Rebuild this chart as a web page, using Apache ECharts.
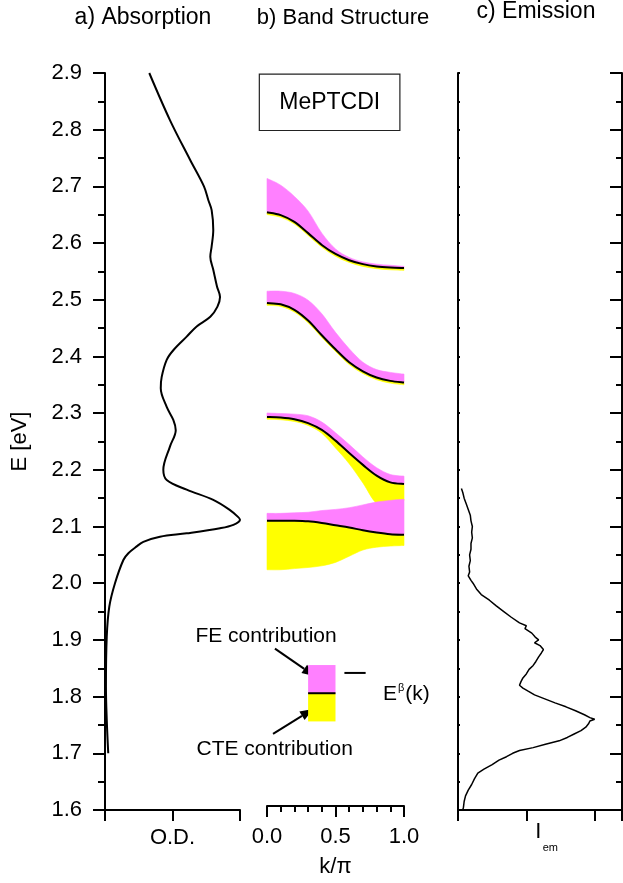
<!DOCTYPE html>
<html><head><meta charset="utf-8">
<script src="https://cdn.jsdelivr.net/npm/echarts@6/dist/echarts.min.js"></script>
<style>html,body{margin:0;padding:0;background:#fff}#c{width:623px;height:883px}</style>
</head><body><div id="c"></div>
<script>
// ---------- data ----------
const energyMin = 1.6, energyMax = 2.9;
// a) Absorption: optical density vs energy
const absE  = [2.900,2.817,2.747,2.700,2.676,2.658,2.623,2.594,2.576,2.553,2.523,2.505,2.488,2.470,2.453,2.435,2.411,2.394,2.364,2.344,2.311,2.288,2.270,2.241,2.200,2.182,2.165,2.147,2.129,2.117,2.112,2.103,2.097,2.088,2.082,2.073,2.065,2.053,2.041,2.000,1.959,1.906,1.818,1.759,1.700];
const absOD = [0.328,0.481,0.630,0.733,0.765,0.790,0.802,0.790,0.780,0.802,0.830,0.852,0.833,0.780,0.679,0.605,0.506,0.457,0.420,0.413,0.457,0.506,0.524,0.481,0.432,0.457,0.605,0.802,0.926,0.985,1.000,0.951,0.852,0.605,0.407,0.284,0.235,0.173,0.136,0.074,0.032,0.013,0.007,0.013,0.024];
// c) Emission intensity vs energy
const emE = [2.167,2.160,2.150,2.140,2.130,2.120,2.110,2.100,2.090,2.080,2.070,2.060,2.050,2.040,2.030,2.020,2.013,2.005,2.000,1.990,1.980,1.970,1.960,1.950,1.940,1.930,1.925,1.920,1.912,1.905,1.900,1.895,1.890,1.883,1.877,1.870,1.862,1.855,1.848,1.840,1.833,1.826,1.820,1.815,1.810,1.803,1.796,1.789,1.782,1.775,1.768,1.763,1.760,1.757,1.752,1.746,1.740,1.734,1.728,1.722,1.716,1.710,1.705,1.700,1.694,1.688,1.680,1.672,1.665,1.655,1.645,1.635,1.625,1.615,1.605,1.600];
const emI = [0.05,0.07,0.09,0.12,0.15,0.18,0.19,0.21,0.20,0.21,0.19,0.19,0.17,0.18,0.16,0.17,0.15,0.19,0.22,0.27,0.34,0.46,0.56,0.67,0.78,0.90,1.00,0.98,1.08,1.13,1.18,1.12,1.20,1.25,1.22,1.18,1.14,1.10,1.04,1.00,0.95,0.92,0.90,0.95,1.02,1.12,1.27,1.42,1.58,1.72,1.85,1.93,2.00,1.93,1.91,1.87,1.80,1.70,1.60,1.48,1.28,1.10,0.90,0.80,0.71,0.60,0.50,0.38,0.29,0.24,0.20,0.15,0.11,0.09,0.08,0.07];
// b) Band structure E^beta(k) and contributions
const kGrid = [0,0.1,0.2,0.3,0.4,0.5,0.6,0.7,0.8,0.9,1.0];
const band1Top    = [2.713,2.701,2.681,2.655,2.616,2.588,2.573,2.565,2.561,2.559,2.557];
const band1Line   = [2.653,2.648,2.636,2.616,2.595,2.579,2.568,2.561,2.557,2.555,2.554];
const band1Bottom = [2.649,2.644,2.632,2.612,2.591,2.575,2.564,2.557,2.553,2.551,2.550];
const band2Top    = [2.513,2.513,2.509,2.497,2.473,2.440,2.411,2.387,2.374,2.369,2.366];
const band2Line   = [2.492,2.490,2.480,2.461,2.435,2.410,2.387,2.371,2.360,2.354,2.351];
const band2Bottom = [2.488,2.486,2.476,2.457,2.431,2.406,2.383,2.367,2.356,2.350,2.347];
const band3Top    = [2.297,2.296,2.295,2.292,2.281,2.262,2.241,2.219,2.200,2.188,2.185];
const band3Line   = [2.290,2.289,2.286,2.279,2.267,2.248,2.226,2.205,2.186,2.174,2.171];
const band3Bottom = [2.286,2.285,2.282,2.275,2.261,2.235,2.207,2.173,2.137,2.140,2.142];
const band4Top    = [2.119,2.119,2.120,2.121,2.124,2.126,2.129,2.134,2.139,2.142,2.144];
const band4Line   = [2.106,2.106,2.106,2.105,2.102,2.098,2.094,2.089,2.085,2.082,2.081];
const band4Bottom = [2.019,2.019,2.021,2.023,2.026,2.032,2.043,2.054,2.059,2.061,2.062];
// inset legend (k range, E levels)
const legendK = [0.3, 0.5];
const legendE = [1.75, 1.80, 1.85];
const legendDashK = [0.565, 0.72];
const legendDashE = 1.836;

// ---------- styles ----------
const PINK = '#FF80FF', YELLOW = '#FFFF00', INK = '#000';
const FONT = "'Liberation Sans', Arial, Helvetica, sans-serif";

const bandRegions = [
  {upper: band1Top, lower: band1Line, color: PINK},
  {upper: band1Line, lower: band1Bottom, color: YELLOW},
  {upper: band2Top, lower: band2Line, color: PINK},
  {upper: band2Line, lower: band2Bottom, color: YELLOW},
  {upper: band3Top, lower: band3Line, color: PINK},
  {upper: band3Line, lower: band3Bottom, color: YELLOW},
  {upper: band4Top, lower: band4Line, color: PINK},
  {upper: band4Line, lower: band4Bottom, color: YELLOW}
];
const bandLines = [band1Line, band2Line, band3Line, band4Line];
const legendRects = [
  {k: legendK, e: [legendE[1], legendE[2]], color: PINK},
  {k: legendK, e: [legendE[0], legendE[1]], color: YELLOW}
];
const zip = (xs, ys) => xs.map((x, i) => [x, ys[i]]);

// Catmull-Rom smoothed path through pixel points (continuing from current point)
function crSegments(p) {
  let d = '';
  for (let i = 0; i < p.length - 1; i++) {
    const p0 = p[Math.max(i - 1, 0)], p1 = p[i], p2 = p[i + 1], p3 = p[Math.min(i + 2, p.length - 1)];
    const c1 = [p1[0] + (p2[0] - p0[0]) / 6, p1[1] + (p2[1] - p0[1]) / 6];
    const c2 = [p2[0] - (p3[0] - p1[0]) / 6, p2[1] - (p3[1] - p1[1]) / 6];
    d += ' C' + c1[0] + ',' + c1[1] + ' ' + c2[0] + ',' + c2[1] + ' ' + p2[0] + ',' + p2[1];
  }
  return d;
}

const chart = echarts.init(document.getElementById('c'), null, {renderer: 'canvas'});

const axisLineStyle = {color: INK, width: 2};
function energyAxis(extra) {
  return Object.assign({
    type: 'value', min: energyMin, max: energyMax, interval: 0.1,
    splitLine: {show: false},
    axisLine: {show: true, lineStyle: axisLineStyle},
    axisTick: {show: true, length: 12, lineStyle: {color: INK, width: 2}},
    minorTick: {show: true, splitNumber: 2, length: 7, lineStyle: {color: INK, width: 2}},
    axisLabel: {show: false}
  }, extra);
}

const option = {
  animation: false,
  backgroundColor: '#fff',
  textStyle: {fontFamily: FONT},
  grid: [
    {left: 105, top: 73, width: 135, height: 737},
    {left: 267, top: 73, width: 137, height: 737},
    {left: 458, top: 73, width: 164, height: 737}
  ],
  xAxis: [
    {gridIndex: 0, type: 'value', min: 0, max: 1, interval: 0.5,
     splitLine: {show: false},
     axisLine: {lineStyle: axisLineStyle},
     axisTick: {length: 11, lineStyle: {color: INK, width: 2}},
     axisLabel: {show: false},
     name: 'O.D.', nameLocation: 'middle', nameGap: 17,
     nameTextStyle: {fontSize: 22, color: INK, fontFamily: FONT}},
    {gridIndex: 1, type: 'value', min: 0, max: 1, interval: 0.5,
     splitLine: {show: false},
     axisLine: {lineStyle: axisLineStyle},
     axisTick: {length: 11, lineStyle: {color: INK, width: 2}},
     minorTick: {show: true, splitNumber: 5, length: 6, lineStyle: {color: INK, width: 2}},
     axisLabel: {fontSize: 22, color: INK, margin: 20, fontFamily: FONT,
                 formatter: v => v.toFixed(1)},
     name: 'k/π', nameLocation: 'middle', nameGap: 50,
     nameTextStyle: {fontSize: 22, color: INK, fontFamily: FONT}},
    {gridIndex: 2, type: 'value', min: 0, max: 2.4, interval: 1,
     splitLine: {show: false},
     axisLine: {lineStyle: axisLineStyle},
     axisTick: {length: 11, lineStyle: {color: INK, width: 2}},
     axisLabel: {show: false}}
  ],
  yAxis: [
    energyAxis({gridIndex: 0, position: 'left',
      axisLabel: {show: true, fontSize: 22, color: INK, margin: 23, fontFamily: FONT,
                  formatter: v => v.toFixed(1)},
      name: 'E [eV]', nameLocation: 'middle', nameGap: 74,
      nameTextStyle: {fontSize: 22, color: INK, fontFamily: FONT}}),
    {gridIndex: 1, type: 'value', min: energyMin, max: energyMax, show: false},
    energyAxis({gridIndex: 2, position: 'left',
      axisTick: {show: true, inside: true, length: 2, lineStyle: {color: INK, width: 2}},
      minorTick: {show: true, splitNumber: 2, length: 2, lineStyle: {color: INK, width: 2}}}),
    energyAxis({gridIndex: 2, position: 'right',
      axisTick: {show: true, inside: true, length: 12, lineStyle: {color: INK, width: 2}},
      minorTick: {show: true, splitNumber: 2, length: 6, lineStyle: {color: INK, width: 2}}})
  ],
  series: [
    {type: 'line', xAxisIndex: 0, yAxisIndex: 0, data: zip(absOD, absE),
     smooth: 0.35, symbol: 'none', lineStyle: {color: INK, width: 2}},
    {type: 'line', xAxisIndex: 2, yAxisIndex: 2, data: zip(emI, emE),
     smooth: false, symbol: 'none', lineStyle: {color: INK, width: 1.5}},
    {type: 'custom', xAxisIndex: 1, yAxisIndex: 1,
     data: bandRegions.map((r, i) => [i]),
     renderItem: function (params, api) {
       const r = bandRegions[params.dataIndex];
       const up = kGrid.map((k, i) => api.coord([k, r.upper[i]]));
       const lo = kGrid.map((k, i) => api.coord([k, r.lower[i]])).reverse();
       const d = 'M' + up[0][0] + ',' + up[0][1] + crSegments(up) +
                 ' L' + lo[0][0] + ',' + lo[0][1] + crSegments(lo) + ' Z';
       return {type: 'path', shape: {pathData: d},
               style: {fill: r.color, stroke: r.color, lineWidth: 0.6}};
     }},
    {type: 'custom', xAxisIndex: 1, yAxisIndex: 1,
     data: legendRects.map((r, i) => [i]),
     renderItem: function (params, api) {
       const r = legendRects[params.dataIndex];
       const p0 = api.coord([r.k[0], r.e[1]]);
       const p1 = api.coord([r.k[1], r.e[0]]);
       return {type: 'rect', shape: {x: p0[0], y: p0[1], width: p1[0] - p0[0], height: p1[1] - p0[1]},
               style: {fill: r.color}};
     }},
    {type: 'custom', xAxisIndex: 1, yAxisIndex: 1, z: 5,
     data: bandLines.map((b, i) => [i]),
     renderItem: function (params, api) {
       const b = bandLines[params.dataIndex];
       const p = kGrid.map((k, i) => api.coord([k, b[i]]));
       const d = 'M' + p[0][0] + ',' + p[0][1] + crSegments(p);
       return {type: 'path', shape: {pathData: d},
               style: {fill: null, stroke: INK, lineWidth: 2}};
     }},
    {type: 'line', xAxisIndex: 1, yAxisIndex: 1,
     data: [[legendK[0], legendE[1]], [legendK[1], legendE[1]]],
     symbol: 'none', lineStyle: {color: INK, width: 2}, z: 5},
    {type: 'line', xAxisIndex: 1, yAxisIndex: 1,
     data: [[legendDashK[0], legendDashE], [legendDashK[1], legendDashE]],
     symbol: 'none', lineStyle: {color: INK, width: 2}, z: 5}
  ]
};
chart.setOption(option);

// ---------- annotations ----------
const toPx = (k, e) => chart.convertToPixel({xAxisIndex: 1, yAxisIndex: 1}, [k, e]);
function arrow(from, to) {
  const a = toPx(from[0], from[1]), b = toPx(to[0], to[1]);
  const dx = b[0] - a[0], dy = b[1] - a[1], L = Math.hypot(dx, dy);
  const ux = dx / L, uy = dy / L, hl = 13, hw = 5;
  const bx = b[0] - ux * hl, by = b[1] - uy * hl;
  return [
    {type: 'line', shape: {x1: a[0], y1: a[1], x2: bx, y2: by}, style: {stroke: INK, lineWidth: 2}},
    {type: 'polygon', shape: {points: [[b[0], b[1]], [bx - uy * hw, by + ux * hw], [bx + uy * hw, by - ux * hw]]},
     style: {fill: INK}}
  ];
}
const boxA = toPx(-0.056, 2.898), boxB = toPx(0.97, 2.798), boxC = toPx(0.458, 2.848);
const feC = toPx(-0.007, 1.902), cteC = toPx(0.056, 1.700), ebL = toPx(0.847, 1.799);
const emTick = chart.convertToPixel({xAxisIndex: 2}, 1);
const txt = (x, y, s, size, align, va) => ({type: 'text', x: x, y: y,
  style: {text: s, fontSize: size, fontFamily: FONT, fill: INK, align: align || 'center', verticalAlign: va || 'middle'}});

chart.setOption({graphic: [
  txt(143, 18, 'a) Absorption', 23),
  txt(343, 18, 'b) Band Structure', 22),
  txt(536, 12, 'c) Emission', 23),
  {type: 'rect', shape: {x: boxA[0], y: boxA[1], width: boxB[0] - boxA[0], height: boxB[1] - boxA[1]},
   style: {fill: '#fff', stroke: '#222', lineWidth: 1.2}},
  txt(boxC[0], boxC[1], 'MePTCDI', 23),
  txt(feC[0], feC[1], 'FE contribution', 21),
  txt(cteC[0], cteC[1], 'CTE contribution', 21),
  {type: 'text', x: ebL[0], y: ebL[1], style: {
    rich: {b: {fontSize: 21, fontFamily: FONT, fill: INK}, s: {fontSize: 11, fontFamily: FONT, fill: INK, padding: [0, 1, 12, 1]}},
    text: '{b|E}{s|β}{b|(k)}', verticalAlign: 'middle', align: 'left'}},
  ...arrow([0.058, 1.879], [0.35, 1.830]),
  ...arrow([0.044, 1.728], [0.336, 1.772]),
  txt(emTick + 12, 832, 'I', 22),
  txt(emTick + 24, 848, 'em', 11, 'center')
]});
</script></body></html>
